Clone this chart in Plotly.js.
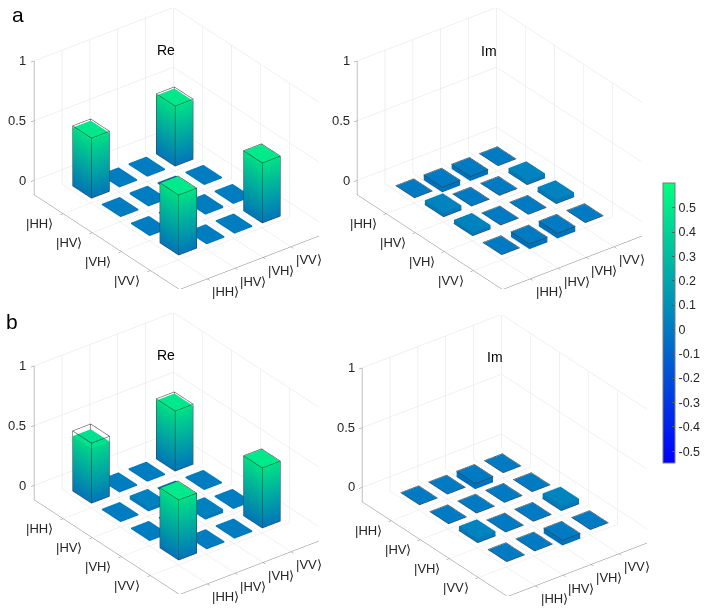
<!DOCTYPE html>
<html lang="en">
<head>
<meta charset="UTF-8">
<title>Density matrix</title>
<script src="https://cdn.plot.ly/plotly-3.0.1.min.js"></script>
<style>body{margin:0;background:#fff}</style>
</head>
<body>
<div id="plot" style="width:706px;height:610px"></div>
<script>
    // basis labels, rows = left axis, columns = right axis
    const kets = ['|HH⟩', '|HV⟩', '|VH⟩', '|VV⟩']

    const reA = [
        [0.49, 0.01, 0.01, 0.49],
        [0.01, 0.015, 0.01, 0.01],
        [0.01, 0.01, 0.015, 0.01],
        [0.50, 0.01, 0.01, 0.50]]
    const imA = [
        [0, -0.04, -0.035, 0],
        [0.04, 0, 0, 0.04],
        [0.035, 0, 0, 0.04],
        [0, -0.04, -0.04, 0]]
    const reB = [
        [0.46, 0.01, 0.01, 0.49],
        [0.01, 0.03, 0.01, 0.01],
        [0.01, 0.01, 0.03, 0.01],
        [0.50, 0.01, 0.01, 0.50]]
    const imB = [
        [0, 0, -0.045, 0],
        [0, 0, 0, 0],
        [0.04, 0, 0, 0.045],
        [0, 0, -0.04, 0]]
    // ideal state, drawn as wire boxes
    const idealRe = [
        [0.5, 0, 0, 0.5],
        [0, 0, 0, 0],
        [0, 0, 0, 0],
        [0.5, 0, 0, 0.5]]
    const idealIm = [
        [0, 0, 0, 0],
        [0, 0, 0, 0],
        [0, 0, 0, 0],
        [0, 0, 0, 0]]

    const zTicks = [0, 0.5, 1]
    const cbTicks = [-0.5, -0.4, -0.3, -0.2, -0.1, 0, 0.1, 0.2, 0.3, 0.4, 0.5]

    const cmin = -0.55, cmax = 0.6
    const winter = [[0, '#0000ff'], [1, '#00ff80']]
    const w = 0.64
    const zlo = -0.12
    const font = 'Liberation Sans, Arial, sans-serif'

    function bars(m, scene, withScale) {
        const x = [], y = [], z = [], i = [], j = [], k = []
        m.forEach((row, r) => row.forEach((v, c) => {
            const xc = c + 1, yc = 4 - r
            const z0 = Math.min(0, v), z1 = Math.max(0, v)
            const b = x.length
            for (const zz of [z0, z1]) {
                x.push(xc - w / 2, xc + w / 2, xc + w / 2, xc - w / 2)
                y.push(yc - w / 2, yc - w / 2, yc + w / 2, yc + w / 2)
                z.push(zz, zz, zz, zz)
            }
            i.push(b, b, b + 4, b + 4)
            j.push(b + 1, b + 2, b + 5, b + 6)
            k.push(b + 2, b + 3, b + 6, b + 7)
            for (let q = 0; q < 4; q++) {
                const p = (q + 1) % 4
                i.push(b + q, b + q)
                j.push(b + p, b + p + 4)
                k.push(b + p + 4, b + q + 4)
            }
        }))
        return {
            type: 'mesh3d', scene: scene, x: x, y: y, z: z, i: i, j: j, k: k,
            intensity: z, colorscale: winter, cmin: cmin, cmax: cmax,
            flatshading: true,
            lighting: {ambient: 0.95, diffuse: 0.1, specular: 0, roughness: 1, fresnel: 0},
            showscale: withScale, hoverinfo: 'skip',
            colorbar: {
                x: 0.939, xanchor: 'left', y: 0.47, yanchor: 'middle', len: 0.459, ypad: 0, xpad: 0,
                thickness: 12, outlinewidth: 1, outlinecolor: '#7a7a7a',
                tickvals: cbTicks, ticktext: cbTicks.map(String),
                ticks: 'inside', ticklen: 3, tickcolor: '#555',
                tickfont: {family: font, size: 12.5, color: '#262626'}
            }
        }
    }

    function wire(ideal, scene, onlyPositive) {
        const x = [], y = [], z = [], e = 0.003, hw = w / 2 + 0.004
        ideal.forEach((row, r) => row.forEach((v, c) => {
            if (onlyPositive && v <= 0) return
            const xc = c + 1, yc = 4 - r
            const sq = [[-1, -1], [1, -1], [1, 1], [-1, 1], [-1, -1]]
            const top = v > 0 ? v + e : e
            sq.forEach(p => { x.push(xc + p[0] * hw); y.push(yc + p[1] * hw); z.push(top) })
            x.push(null); y.push(null); z.push(null)
            if (v > 0) {
                sq.forEach(p => { x.push(xc + p[0] * hw); y.push(yc + p[1] * hw); z.push(0) })
                x.push(null); y.push(null); z.push(null)
                sq.slice(0, 4).forEach(p => {
                    x.push(xc + p[0] * hw, xc + p[0] * hw, null)
                    y.push(yc + p[1] * hw, yc + p[1] * hw, null)
                    z.push(0, top, null)
                })
            }
        }))
        return {
            type: 'scatter3d', mode: 'lines', scene: scene, x: x, y: y, z: z,
            line: {color: '#3a3a3a', width: 1}, hoverinfo: 'skip', connectgaps: false
        }
    }

    // back corner edge of the box
    function corner(scene) {
        return {
            type: 'scatter3d', mode: 'lines', scene: scene, x: [5, 5], y: [5, 5], z: [zlo, 1],
            line: {color: '#e2e2e2', width: 1}, hoverinfo: 'skip'
        }
    }

    const axis = {
        showgrid: true, gridcolor: '#e2e2e2', gridwidth: 1,
        showline: true, linecolor: '#808080', linewidth: 1,
        ticks: 'outside', ticklen: 4, tickcolor: '#808080',
        showticklabels: false,
        showbackground: false, zeroline: false, showspikes: false,
        title: {text: ''}, autorange: false
    }
    const tickFont = {family: font, size: 13, color: '#262626'}

    // horizontal tick labels as scene annotations
    function tickLabels() {
        const a = []
        zTicks.forEach(t => a.push({x: 0, y: 5, z: t, text: String(t), showarrow: false,
            xanchor: 'right', yanchor: 'middle', xshift: -6, font: tickFont}))
        kets.forEach((s, c) => a.push({x: c + 1, y: 0, z: zlo, text: s, showarrow: false,
            xanchor: 'left', yanchor: 'top', xshift: 3, yshift: -4, font: tickFont}))
        kets.forEach((s, r) => a.push({x: 0, y: 4 - r, z: zlo, text: s, showarrow: false,
            xanchor: 'right', yanchor: 'top', xshift: -8, yshift: -1, font: tickFont}))
        return a
    }

    const d = 1.34
    function sceneLayout(dx, dy) {
        return {
            domain: {x: dx, y: dy},
            xaxis: Object.assign({}, axis, {range: [0, 5], tickvals: [1, 2, 3, 4]}),
            yaxis: Object.assign({}, axis, {range: [0, 5], tickvals: [4, 3, 2, 1]}),
            zaxis: Object.assign({}, axis, {range: [zlo, 1], tickvals: zTicks}),
            aspectmode: 'manual', aspectratio: {x: 1.25, y: 1.70, z: 1.10},
            camera: {
                eye: {x: -0.527 * d, y: -0.687 * d, z: 0.5 * d},
                center: {x: 0, y: 0, z: 0}, up: {x: 0, y: 0, z: 1},
                projection: {type: 'orthographic'}
            },
            annotations: tickLabels(),
            dragmode: false
        }
    }

    const data = [
        bars(reA, 'scene', true), wire(idealRe, 'scene', true), corner('scene'),
        bars(imA, 'scene2', false), wire(idealIm, 'scene2', false), corner('scene2'),
        bars(reB, 'scene3', false), wire(idealRe, 'scene3', true), corner('scene3'),
        bars(imB, 'scene4', false), wire(idealIm, 'scene4', false), corner('scene4')
    ]

    const note = (txt, x, y, size) => ({
        text: txt, x: x / 706, y: 1 - y / 610, xref: 'paper', yref: 'paper',
        xanchor: 'center', yanchor: 'middle',
        showarrow: false, font: {family: font, size: size, color: '#000'}
    })

    const layout = {
        width: 706, height: 610, margin: {l: 0, r: 0, t: 0, b: 0, autoexpand: false},
        paper_bgcolor: '#fff', showlegend: false,
        scene: sceneLayout([0.02, 0.48], [0.527, 0.987]),
        scene2: sceneLayout([0.478, 0.938], [0.527, 0.987]),
        scene3: sceneLayout([0.02, 0.48], [0.027, 0.487]),
        scene4: sceneLayout([0.485, 0.945], [0.024, 0.484]),
        annotations: [
            note('a', 18, 14, 21), note('b', 12, 321, 21),
            note('Re', 166, 50, 14), note('Im', 489, 51, 14),
            note('Re', 166, 355, 14), note('Im', 495, 357, 14)
        ]
    }

    Plotly.newPlot('plot', data, layout, {displayModeBar: false})
</script>
</body>
</html>
